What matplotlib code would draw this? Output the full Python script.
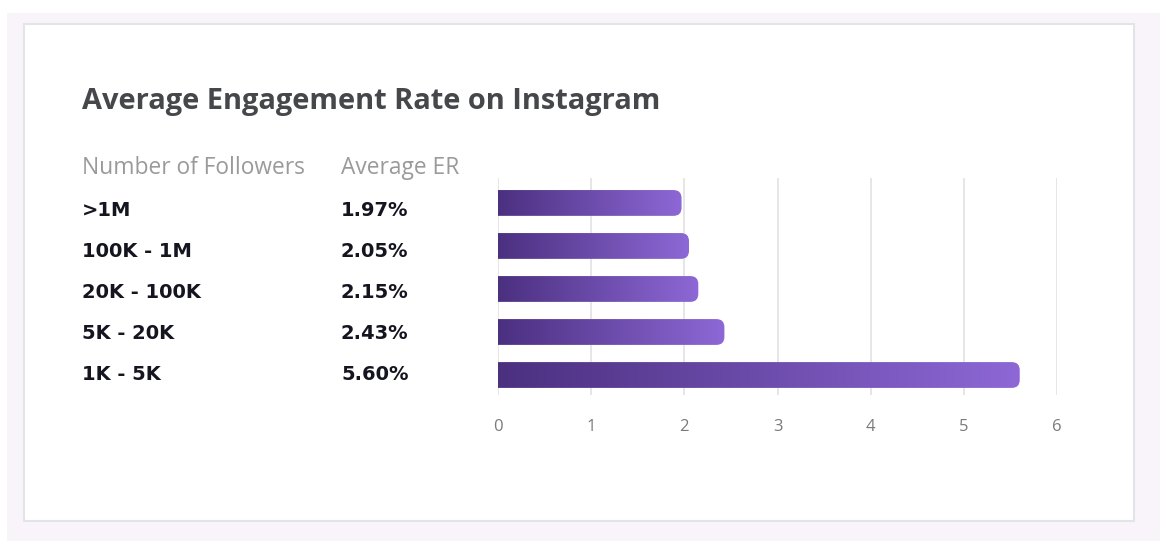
import numpy as np
import matplotlib.pyplot as plt
from matplotlib.patches import FancyBboxPatch, Rectangle
from matplotlib.colors import LinearSegmentedColormap

# data
followers = ['1K - 5K', '5K - 20K', '20K - 100K', '100K - 1M', '>1M']
er_values = [5.60, 2.43, 2.15, 2.05, 1.97]
er_labels = ['5.60%', '2.43%', '2.15%', '2.05%', '1.97%']
x_ticks = [0, 1, 2, 3, 4, 5, 6]

W, H = 1160, 541
fig = plt.figure(figsize=(W / 100, H / 100), dpi=100)
fig.patch.set_facecolor('white')

# background panel + white card
bg = fig.add_axes([0, 0, 1, 1])
bg.set_xlim(0, W)
bg.set_ylim(H, 0)
bg.axis('off')
bg.add_patch(Rectangle((7, 13), 1153, 528, facecolor='#f8f4f9', edgecolor='none'))
bg.add_patch(Rectangle((24, 24), 1110, 497, facecolor='white', edgecolor='#e3e3ea', linewidth=1.5))

bg.text(82, 101, 'Average Engagement Rate on Instagram', fontsize=20.9, fontweight='bold',
        color='#45474b', va='center', ha='left', family='Open Sans')
bg.text(82, 168, 'Number of Followers', fontsize=16.4, color='#9a9a9a', va='center', family='Open Sans')
bg.text(341, 168, 'Average ER', fontsize=16.4, color='#9a9a9a', va='center', family='Open Sans')

# chart axes
ax_l, ax_r = 498, 1057
ax_t, ax_b = 178, 395
ax = fig.add_axes([ax_l / W, 1 - ax_b / H, (ax_r - ax_l) / W, (ax_b - ax_t) / H])
ax.set_xlim(0, 6)
ax.set_ylim(-0.465, 4.58)
for s in ax.spines.values():
    s.set_visible(False)
ax.set_yticks([])
ax.set_xticks(x_ticks)
ax.tick_params(axis='x', length=0, pad=17, labelsize=12, labelcolor='#7a7a7a')
for lbl in ax.get_xticklabels():
    lbl.set_family('Open Sans')
for t in x_ticks:
    ax.axvline(t, color='#e2e2e2', linewidth=1.2, zorder=0)

cmap = LinearSegmentedColormap.from_list('purp', ['#4b3080', '#8d68d6'])
grad = np.linspace(0, 1, 256).reshape(1, -1)

px_x = (ax_r - ax_l) / 6
px_y = (ax_b - ax_t) / (4.58 + 0.465)
r_px = 8
bar_h = 0.6
n = len(followers)
for i, v in enumerate(er_values):
    y0 = i - bar_h / 2
    patch = FancyBboxPatch((-0.2, y0), v + 0.2, bar_h,
                           boxstyle='round,pad=0,rounding_size=%f' % (r_px / px_x),
                           mutation_aspect=px_x / px_y,
                           facecolor='none', edgecolor='none')
    ax.add_patch(patch)
    im = ax.imshow(grad, cmap=cmap, aspect='auto', extent=(0, v, y0, y0 + bar_h),
                   zorder=2, interpolation='bilinear')
    im.set_clip_path(patch)
    # table rows to the left
    yp = 211 + (n - 1 - i) * 40.8
    bg.text(82, yp, followers[i], fontsize=14, fontweight='bold', color='#15151f',
            va='center', family='DejaVu Sans')
    bg.text(341, yp, er_labels[i], fontsize=14, fontweight='bold', color='#15151f',
            va='center', family='DejaVu Sans')

ax.set_xlim(0, 6)
ax.set_ylim(-0.465, 4.58)

fig.savefig('out.png', dpi=100)
